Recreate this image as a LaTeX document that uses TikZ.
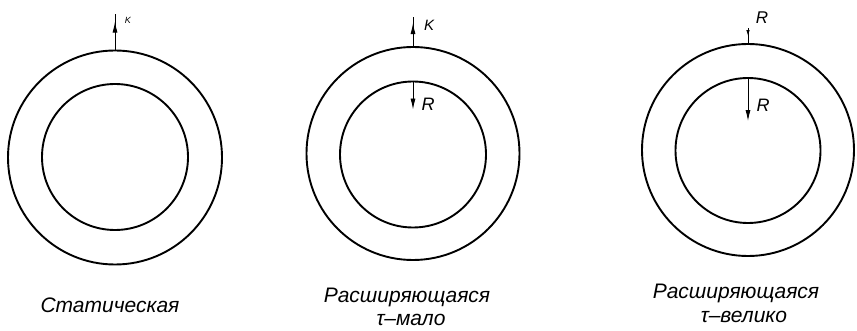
\documentclass[tikz,border=0pt]{standalone}
\usepackage{fontspec}
\setmainfont{Liberation Sans}
\newfontfamily\labfont{Liberation Sans}
\usetikzlibrary{arrows.meta,calc}
\tikzset{
  ring/.style={circle, draw, line width=1.9pt, inner sep=0pt},
  thinline/.style={line width=0.9pt},
  head/.style={line width=0.9pt, -{Latex[length=11pt,width=5pt]}},
  caption/.style={font=\labfont\itshape\fontsize{21}{23}\selectfont, inner sep=0pt, anchor=center},
  letter/.style={font=\itshape\fontsize{14}{16}\selectfont, inner sep=0pt}
}
\begin{document}
\begin{tikzpicture}[x=1pt,y=-1pt]
\useasboundingbox (0,0) rectangle (857,331);
% circles
\node[ring, minimum size=214pt] (o1) at (115,157.5) {};
\node[ring, minimum size=146pt] (i1) at (115,157) {};
\node[ring, minimum size=213pt] (o2) at (413,153.5) {};
\node[ring, minimum size=146pt] (i2) at (413,154.5) {};
\node[ring, minimum size=212pt] (o3) at (748,150) {};
\node[ring, minimum size=145pt] (i3) at (748,150.5) {};
% circle 1 arrow
\coordinate (t1) at ($(o1.north)+(0,-36)$);
\coordinate (h1) at ($(o1.north)+(0,-28)$);
\draw[thinline] (o1.north) -- (t1);
\draw[head] (o1.north) -- (h1);
\node[letter, font=\itshape\fontsize{9}{10}\selectfont] (k1) at (128,20) {K};
% circle 2 arrows
\coordinate (t2) at ($(o2.north)+(0,-29)$);
\coordinate (h2) at ($(o2.north)+(0,-23)$);
\draw[thinline] (o2.north) -- (t2);
\draw[head] (o2.north) -- (h2);
\node[letter, font=\itshape\fontsize{15}{17}\selectfont] (k2) at (429,25) {K};
\coordinate (d2) at ($(i2.north)+(0,29)$);
\draw[head] (i2.north) -- (d2);
\node[letter, font=\itshape\fontsize{18}{20}\selectfont] (r2) at (428,104) {R};
% circle 3 arrows
\coordinate (s3) at ($(o3.north)+(0,-15)$);
\coordinate (m3) at ($(o3.north)+(0,-7)$);
\draw[thinline] (s3) -- (o3.north);
\draw[thinline, -{Latex[length=6pt,width=3.5pt]}] (s3) -- (m3);
\node[letter, font=\itshape\fontsize{17}{19}\selectfont] (r3a) at (762,18) {R};
\coordinate (d3) at ($(i3.north)+(0,44)$);
\draw[head] (i3.north) -- (d3);
\node[letter, font=\itshape\fontsize{18}{20}\selectfont] (r3b) at (763,105) {R};
% captions
\node[caption] (c1) at (110,305) {Статическая};
\node[caption] (c2) at (407,297) {Расширяющаяся};
\node[caption] (c2b) at (411,320) {τ–мало};
\node[caption] (c3) at (736,293) {Расширяющаяся};
\node[caption] (c3b) at (744,317) {τ–велико};
\end{tikzpicture}
\end{document}
